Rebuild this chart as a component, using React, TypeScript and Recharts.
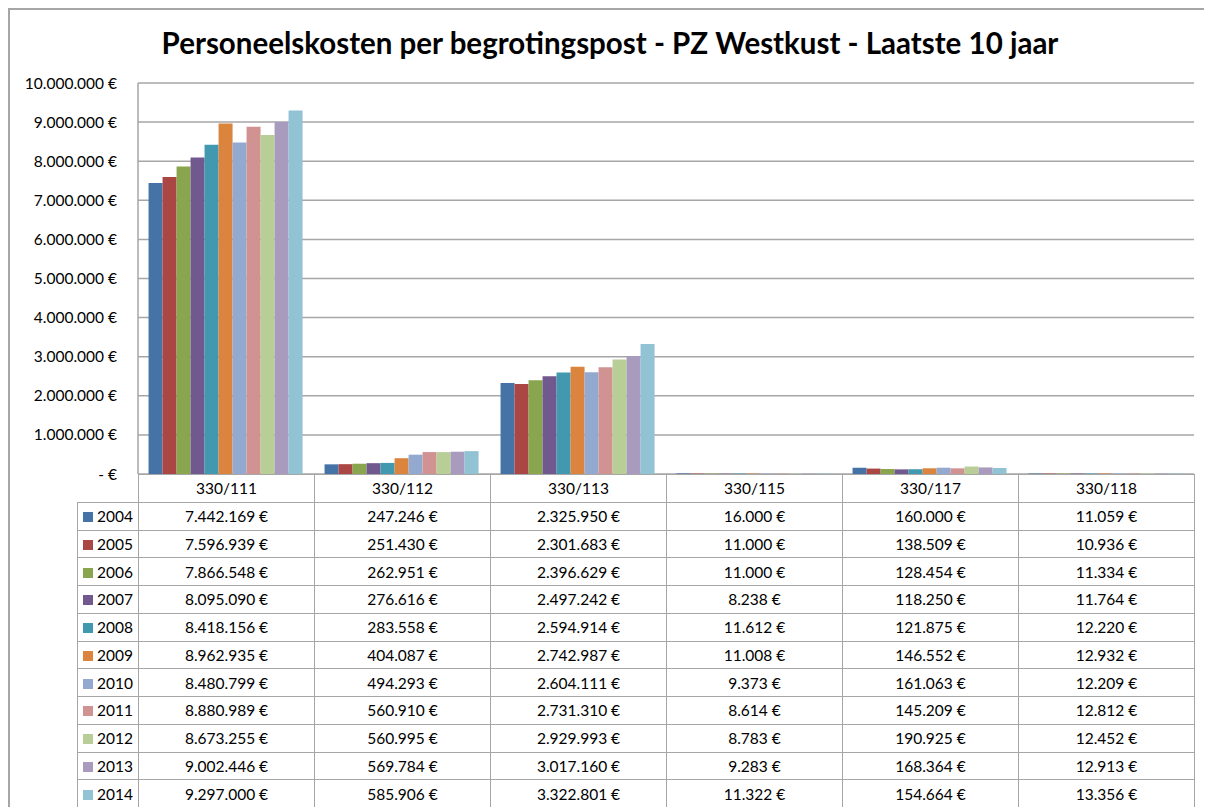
import React from "react";
import { BarChart, Bar, XAxis, YAxis, CartesianGrid } from "recharts";

const categories = ["330/111", "330/112", "330/113", "330/115", "330/117", "330/118"];
const years = ["2004", "2005", "2006", "2007", "2008", "2009", "2010", "2011", "2012", "2013", "2014"];
const colors = [
  "#4572A7", "#AA4643", "#89A54E", "#71588F", "#4198AF", "#DB843D",
  "#93A9CF", "#D19392", "#B9CD96", "#A99BBD", "#92C3D4",
];

const y2004 = [7442169, 247246, 2325950, 16000, 160000, 11059];
const y2005 = [7596939, 251430, 2301683, 11000, 138509, 10936];
const y2006 = [7866548, 262951, 2396629, 11000, 128454, 11334];
const y2007 = [8095090, 276616, 2497242, 8238, 118250, 11764];
const y2008 = [8418156, 283558, 2594914, 11612, 121875, 12220];
const y2009 = [8962935, 404087, 2742987, 11008, 146552, 12932];
const y2010 = [8480799, 494293, 2604111, 9373, 161063, 12209];
const y2011 = [8880989, 560910, 2731310, 8614, 145209, 12812];
const y2012 = [8673255, 560995, 2929993, 8783, 190925, 12452];
const y2013 = [9002446, 569784, 3017160, 9283, 168364, 12913];
const y2014 = [9297000, 585906, 3322801, 11322, 154664, 13356];

const seriesValues = [y2004, y2005, y2006, y2007, y2008, y2009, y2010, y2011, y2012, y2013, y2014];
const yTicks = [0, 1000000, 2000000, 3000000, 4000000, 5000000, 6000000, 7000000, 8000000, 9000000, 10000000];

const chartData = categories.map((name, i) => {
  const row: Record<string, number | string> = { name };
  years.forEach((yr, s) => {
    row[yr] = seriesValues[s][i];
  });
  return row;
});

const fmt = (v: number) =>
  v === 0 ? "- €" : v.toString().replace(/\B(?=(\d{3})+(?!\d))/g, ".") + " €";

const FONT = "Lato, 'Open Sans', sans-serif";
const GRID = "#a6a6a6";
const W = 1204;
const H = 799;
const ROW_H = 27.75;

const cell: React.CSSProperties = {
  border: `1.5px solid ${GRID}`,
  textAlign: "center",
  padding: 0,
  fontSize: 15.5,
  color: "#000",
  whiteSpace: "nowrap",
};

const App: React.FC = () => {
  return (
    <div style={{ position: "relative", width: W, height: H, fontFamily: FONT, background: "#fff", overflow: "hidden" }}>
      {/* frame */}
      <div style={{ position: "absolute", left: 0, top: 0, width: W, height: H, borderLeft: `2px solid ${GRID}`, borderTop: `2px solid ${GRID}`, boxSizing: "border-box" }} />

      <div
        style={{
          position: "absolute",
          left: 0,
          top: 17,
          width: W,
          textAlign: "center",
          fontSize: 29.5,
          fontWeight: 700,
          color: "#000",
        }}
      >
        Personeelskosten per begrotingspost - PZ Westkust - Laatste 10 jaar
      </div>

      <div style={{ position: "absolute", left: 0, top: 0 }}>
        <BarChart
          width={W}
          height={H}
          data={chartData}
          margin={{ top: 75, right: 18, bottom: 333, left: 5 }}
          barCategoryGap="6%"
          barGap={0}
        >
          <CartesianGrid vertical={false} stroke={GRID} strokeWidth={1.5} />
          <XAxis dataKey="name" tick={false} tickLine={false} axisLine={{ stroke: GRID, strokeWidth: 1.5 }} height={0} />
          <YAxis
            width={125}
            domain={[0, 10000000]}
            ticks={yTicks}
            tickFormatter={fmt}
            tickLine={false}
            tickSize={0}
            tickMargin={21}
            axisLine={{ stroke: GRID, strokeWidth: 1.5 }}
            tick={{ fill: "#000", fontSize: 15.5, fontFamily: FONT }}
            interval={0}
          />
          {years.map((yr, s) => (
            <Bar key={yr} dataKey={yr} fill={colors[s]} isAnimationActive={false} />
          ))}
        </BarChart>
      </div>

      <table
        style={{
          position: "absolute",
          left: 69,
          top: 466,
          width: 61 + 176 * 6,
          borderCollapse: "collapse",
          tableLayout: "fixed",
          fontFamily: FONT,
        }}
      >
        <colgroup>
          <col style={{ width: 61 }} />
          {categories.map((c) => (
            <col key={c} style={{ width: 176 }} />
          ))}
        </colgroup>
        <tbody>
          <tr style={{ height: ROW_H }}>
            <td style={{ ...cell, border: "none" }} />
            {categories.map((c) => (
              <td key={c} style={cell}>
                {c}
              </td>
            ))}
          </tr>
          {years.map((yr, s) => (
            <tr key={yr} style={{ height: ROW_H }}>
              <td style={{ ...cell, textAlign: "left", paddingLeft: 5 }}>
                <span style={{ display: "inline-block", width: 10, height: 10, background: colors[s], marginRight: 4 }} />
                {yr}
              </td>
              {seriesValues[s].map((v, i) => (
                <td key={i} style={cell}>
                  {fmt(v)}
                </td>
              ))}
            </tr>
          ))}
        </tbody>
      </table>
    </div>
  );
};

export default App;
